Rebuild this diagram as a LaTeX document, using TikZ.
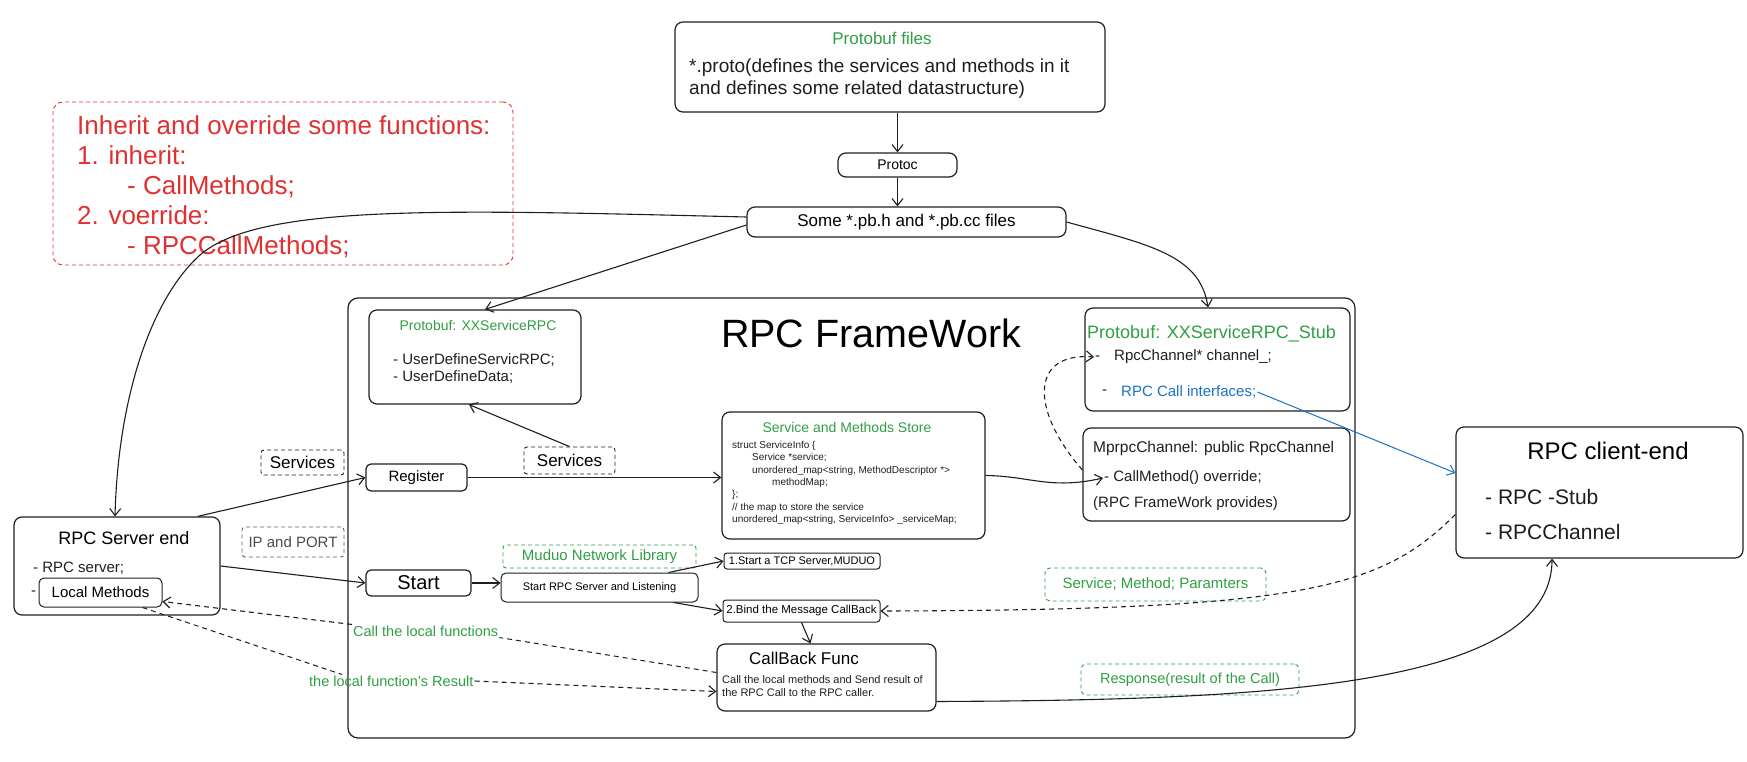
\documentclass[tikz,border=0pt]{standalone}
\usepackage{fontspec}
\setmainfont{Liberation Sans}
\usetikzlibrary{arrows.meta}
\definecolor{exink}{HTML}{1E1E1E}
\definecolor{exgreen}{HTML}{2F9E44}
\definecolor{exred}{HTML}{E03131}
\definecolor{exblue}{HTML}{1971C2}
\tikzset{
	box/.style={draw=exink, line width=1.2pt, rounded corners=8pt, inner sep=0pt},
	tag/.style={draw=exink, line width=0.9pt, dash pattern=on 4pt off 3pt, rounded corners=3pt, inner sep=0pt},
	gtag/.style={tag, draw=exgreen, text=exgreen},
	txt/.style={inner sep=1pt, anchor=west, text=exink, align=left},
	fs/.style 2 args={font=\fontsize{#1}{#2}\selectfont},
	dline/.style={exink, line width=1pt, dash pattern=on 5pt off 4pt},
	wire/.style={exink, line width=1.1pt, -{Straight Barb[length=7pt,width=11pt]}},
	dwire/.style={wire, dash pattern=on 5pt off 4pt}
}
\begin{document}
\begin{tikzpicture}[x=1pt,y=-1pt]%[baseline={(current bounding box.center)}]
	\useasboundingbox (0,0) rectangle (1747,762);

	\node[box, rounded corners=10pt, minimum width=1007pt, minimum height=440pt] (frame) at (851.5,518) {};
	\node[fs={39.5}{45}] (frametitle) at (871,333) {RPC FrameWork};

	\node[box, minimum width=430pt, minimum height=90pt] (protofiles) at (890,67) {};
	\node[text=exgreen, fs={17}{21}] (protofilestitle) at (882,38) {Protobuf files};
	\node[txt, fs={19}{22}] (protofilestxt) at (688,79) {*.proto(defines the services and methods in it\\and defines some related datastructure)};
	\node[box, minimum width=119pt, minimum height=24pt, fs={14}{17}] (protoc) at (897.5,165) {Protoc};
	\node[box, minimum width=319pt, minimum height=30pt, fs={17}{21}] (pbfiles) at (906.5,222) {Some *.pb.h and *.pb.cc files};

	\node[tag, draw=exred, rounded corners=10pt, minimum width=460pt, minimum height=163pt] (note) at (283,183.5) {};
	\node[txt, text=exred, fs={26}{30}] (notetxt) at (76,187) {Inherit and override some functions:\\1. inherit:\\\hspace{50pt}- CallMethods;\\2. voerride:\\\hspace{50pt}- RPCCallMethods;};

	\node[box, minimum width=212pt, minimum height=94pt] (svcrpc) at (475,357) {};
	\node[text=exgreen, fs={14}{17}] (svcrpctitle) at (478,325) {Protobuf: XXServiceRPC};
	\node[txt, fs={15}{17}] (svcrpctxt) at (392,368.5) {- UserDefineServicRPC;\\- UserDefineData;};

	\node[box, minimum width=263pt, minimum height=127pt] (store) at (853.5,475.5) {};
	\node[text=exgreen, fs={14}{17}] (storetitle) at (847,427) {Service and Methods Store};
	\node[txt, fs={10}{12.4}] (storecode) at (731,483) {struct ServiceInfo \{\\\hspace{20pt}Service *service;\\\hspace{20pt}unordered\_map<string, MethodDescriptor *>\\\hspace{40pt}methodMap;\\\};\\// the map to store the service\\unordered\_map<string, ServiceInfo> \_serviceMap;};

	\node[box, minimum width=265pt, minimum height=103pt] (stub) at (1217.5,359.5) {};
	\node[txt, text=exgreen, fs={18}{21}] (stubtitle) at (1086,334) {Protobuf: XXServiceRPC\_Stub};
	\node[txt, fs={15}{18}] (chan) at (1094,357) {-\hspace{14pt}RpcChannel* channel\_;};
	\node[txt, fs={15}{18}] (calldash) at (1101,392) {-};
	\node[txt, text=exblue, fs={15}{18}] (rpccall) at (1120,392) {RPC Call interfaces;};

	\node[box, minimum width=267pt, minimum height=93pt] (mprpc) at (1216.5,474.5) {};
	\node[txt, fs={15.5}{18}] (mprpctitle) at (1092,448) {MprpcChannel: public RpcChannel};
	\node[txt, fs={15}{18}] (callm) at (1103,478) {- CallMethod() override;};
	\node[txt, fs={15}{18}] (provides) at (1092,504) {(RPC FrameWork provides)};

	\node[box, minimum width=287pt, minimum height=131pt] (client) at (1599.5,492.5) {};
	\node[fs={24}{28}] (clienttitle) at (1608,451) {RPC client-end};
	\node[txt, fs={21}{35}] (clienttxt) at (1484,514.5) {- RPC -Stub\\- RPCChannel};

	\node[box, minimum width=206pt, minimum height=98pt] (server) at (117,566) {};
	\node[fs={18}{21}] (servertitle) at (124,538) {RPC Server end};
	\node[txt, fs={15}{18}] (servertxt) at (32,568) {- RPC server;};
	\node[txt, fs={15}{18}] (serverdash) at (30,593) {-};
	\node[box, rounded corners=5pt, line width=1pt, minimum width=123pt, minimum height=29pt, fs={15}{18}] (localm) at (100.5,592.5) {Local Methods};

	\node[tag, minimum width=83pt, minimum height=25pt, fs={17}{20}] (svc1) at (302.5,462.5) {Services};
	\node[tag, minimum width=91pt, minimum height=27pt, fs={17}{20}] (svc2) at (569.5,460.5) {Services};
	\node[tag, draw=exink!70, text=exink!80, minimum width=102pt, minimum height=30pt, fs={15}{18}] (ipport) at (293,542) {IP and PORT};

	\node[box, rounded corners=5pt, minimum width=101pt, minimum height=27pt, fs={15}{18}] (register) at (416.5,477.5) {Register};
	\node[box, rounded corners=5pt, minimum width=105pt, minimum height=26pt, fs={20}{23}] (start) at (418.5,583) {Start};
	\node[box, rounded corners=5pt, line width=1pt, minimum width=197pt, minimum height=29pt, fs={11}{13}] (listen) at (599.5,587.5) {Start RPC Server and Listening};
	\node[gtag, minimum width=193pt, minimum height=23pt, fs={15}{18}] (muduo) at (599.5,556.5) {Muduo Network Library};
	\node[box, rounded corners=3pt, line width=1pt, minimum width=156pt, minimum height=16pt, fs={11}{13}] (tcp) at (802,561) {1.Start a TCP Server,MUDUO};
	\node[box, rounded corners=3pt, line width=1pt, minimum width=157pt, minimum height=22pt, fs={11.5}{13}] (bind) at (801.5,611) {2.Bind the Message CallBack};

	\node[box, minimum width=219pt, minimum height=67pt] (callback) at (826.5,677.5) {};
	\node[fs={17}{20}] (callbacktitle) at (804,658) {CallBack Func};
	\node[txt, fs={11}{13}] (callbacktxt) at (721,686) {Call the local methods and Send result of\\the RPC Call to the RPC caller.};

	\node[gtag, rounded corners=5pt, minimum width=221pt, minimum height=33pt, fs={15}{18}] (smp) at (1155.5,584.5) {Service; Method; Paramters};
	\node[gtag, rounded corners=5pt, minimum width=218pt, minimum height=31pt, fs={14.5}{17}] (resp) at (1190,679.5) {Response(result of the Call)};
	\node[txt, text=exgreen, fs={14.5}{17}] (callloc) at (352,631) {Call the local functions};
	\node[txt, text=exgreen, fs={14.5}{17}] (locres) at (308,681) {the local function's Result};

	\draw[wire] (protofiles.south -| protoc.north) -- (protoc.north);
	\draw[wire] (protoc.south) -- (protoc.south |- pbfiles.north);
	\draw[wire] ([yshift=5pt]pbfiles.west) .. controls (450,210) and (260,203) .. (200,255) .. controls (150,300) and (118,400) .. ([xshift=-2pt]server.north);
	\draw[wire] ([yshift=-3pt]pbfiles.west) -- ([xshift=10pt]svcrpc.north);
	\draw[wire] (pbfiles.east) .. controls (1150,245) and (1200,255) .. ([xshift=-9.5pt]stub.north);
	\draw[wire] (svc2.north) -- ([xshift=-6pt]svcrpc.south);
	\draw[wire] (register.east) -- (register.east -| store.west);
	\draw[wire] (store.east) .. controls (1030,476) and (1050,490) .. (callm.west);
	\draw[dwire] ([yshift=4.5pt]mprpc.west) .. controls (1030,410) and (1030,352) .. (chan.west);
	\draw[wire, exblue, line width=1pt] (rpccall.east) -- ([yshift=19.5pt]client.west);
	\draw[wire] ([xshift=-23pt]server.north east) -- (register.west);
	\draw[wire] (server.east) -- (start.west);
	\draw[wire] (start.east) -- (start.east -| listen.west);
	\draw[wire] ([xshift=-30pt]listen.north east) -- (tcp.west);
	\draw[wire] ([xshift=-25pt]listen.south east) -- (bind.west);
	\draw[wire] (bind.south) -- ([xshift=-16pt]callback.north);
	\draw[dline] ([yshift=5pt]callback.west) -- (callloc.south east);
	\draw[dwire] (callloc.north west) -- ([yshift=-9pt]localm.east);
	\draw[dline] ([xshift=-20pt]localm.south east) -- ([xshift=34pt]locres.north west);
	\draw[dwire] (locres.east) -- ([yshift=-14pt]callback.west);
	\draw[dwire] ([yshift=-22pt]client.west) .. controls (1380,590) and (1300,610) .. (bind.east);
	\draw[wire] ([yshift=-24pt]callback.east) .. controls (1250,700) and (1552,690) .. ([xshift=-47.5pt]client.south);
\end{tikzpicture}
\end{document}
